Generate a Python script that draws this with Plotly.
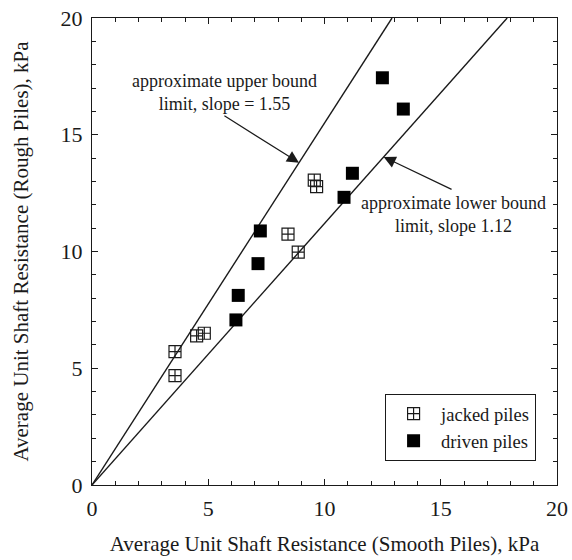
import plotly.graph_objects as go

# Average unit shaft resistance, kPa
jacked_smooth = [3.57, 3.57, 4.50, 4.83, 8.43, 8.87, 9.56, 9.66]
jacked_rough = [5.71, 4.68, 6.39, 6.50, 10.74, 9.97, 13.06, 12.78]

driven_smooth = [6.19, 6.29, 7.14, 7.24, 10.84, 11.20, 12.49, 13.39]
driven_rough = [7.07, 8.12, 9.48, 10.88, 12.32, 13.35, 17.44, 16.10]

# Bounding lines through the origin
upper_slope = 1.55
lower_slope = 1.12
y_max = 20

FONT = "Liberation Serif, Times New Roman, serif"
INK = "#1a1a1a"

fig = go.Figure()

for slope in (upper_slope, lower_slope):
    fig.add_trace(go.Scatter(
        x=[0, y_max / slope], y=[0, y_max], mode="lines",
        line=dict(color=INK, width=1.4), showlegend=False, hoverinfo="skip"))

fig.add_trace(go.Scatter(
    x=jacked_smooth, y=jacked_rough, mode="markers", name="jacked piles",
    marker=dict(symbol="square-cross-open", size=12, color=INK,
                line=dict(color=INK, width=1.2))))

fig.add_trace(go.Scatter(
    x=driven_smooth, y=driven_rough, mode="markers", name="driven piles",
    marker=dict(symbol="square", size=13, color="black",
                line=dict(color="black", width=0))))

# Arrowed labels pointing at each bounding line
up_y = 13.8
fig.add_annotation(
    x=up_y / upper_slope, y=up_y, xref="x", yref="y",
    ax=5.63, ay=15.85, axref="x", ayref="y",
    text="", showarrow=True, arrowhead=2, arrowsize=2, arrowwidth=1.2,
    arrowcolor=INK)
fig.add_annotation(
    x=5.68, y=16.83, xref="x", yref="y",
    text="approximate upper bound<br>limit, slope = 1.55",
    showarrow=False, font=dict(family=FONT, size=18, color=INK))

low_y = 14.05
fig.add_annotation(
    x=low_y / lower_slope, y=low_y, xref="x", yref="y",
    ax=15.53, ay=12.63, axref="x", ayref="y",
    text="", showarrow=True, arrowhead=2, arrowsize=2, arrowwidth=1.2,
    arrowcolor=INK)
fig.add_annotation(
    x=15.53, y=11.6, xref="x", yref="y",
    text="approximate lower bound<br>limit, slope 1.12",
    showarrow=False, font=dict(family=FONT, size=18, color=INK))

axis_common = dict(
    range=[0, 20], dtick=5, tick0=0, showgrid=False, zeroline=False,
    showline=True, linecolor=INK, linewidth=1.2, mirror="ticks",
    ticks="inside", ticklen=6, tickwidth=1, tickcolor=INK,
    minor=dict(dtick=1, ticks="inside", ticklen=4, tickwidth=1, tickcolor=INK),
    tickfont=dict(family=FONT, size=22, color=INK),
    automargin=False,
)

fig.update_xaxes(
    **axis_common, ticklabelstandoff=3,
    title=dict(text="Average Unit Shaft Resistance (Smooth Piles), kPa",
               font=dict(family=FONT, size=21, color=INK), standoff=16))
fig.update_yaxes(
    **axis_common, ticklabelstandoff=4,
    title=dict(text="Average Unit Shaft Resistance (Rough Piles), kPa",
               font=dict(family=FONT, size=21, color=INK), standoff=26))

fig.update_layout(
    width=572, height=560,
    margin=dict(l=92, r=15, t=18, b=75),
    paper_bgcolor="white", plot_bgcolor="white",
    font=dict(family=FONT, color=INK),
    legend=dict(
        x=0.955, y=0.051, xanchor="right", yanchor="bottom",
        bordercolor=INK, borderwidth=1, bgcolor="white",
        font=dict(family=FONT, size=18.5, color=INK),
        itemwidth=45, tracegroupgap=2),
)

fig.write_html("out.html")
